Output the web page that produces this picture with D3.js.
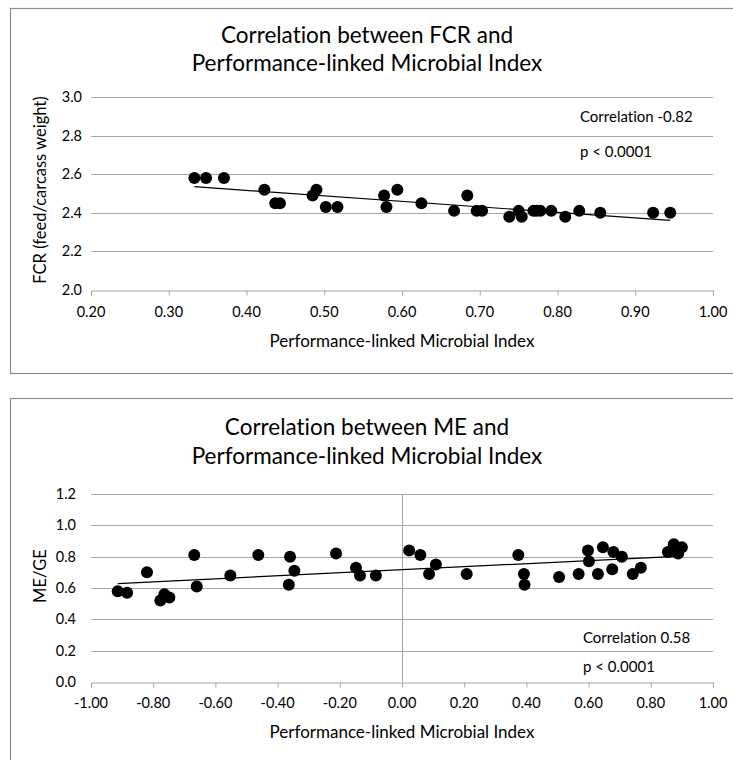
<!DOCTYPE html>
<html>
<head>
<meta charset="utf-8">
<script src="https://cdn.jsdelivr.net/npm/d3@7"></script>
<style>
  html, body { margin: 0; padding: 0; background: #fff; }
  svg text { font-family: Lato, "Open Sans", sans-serif; fill: #000; font-variant-ligatures: none; font-feature-settings: "liga" 0, "clig" 0; }
</style>
</head>
<body>
<svg id="chart" width="733" height="760"></svg>
<script>
// Panel 1: FCR vs performance-linked microbial index
const fcrIndex = [0.333, 0.348, 0.371, 0.423, 0.437, 0.443, 0.485, 0.490, 0.502, 0.517,
                  0.577, 0.580, 0.594, 0.625, 0.667, 0.684, 0.696, 0.703, 0.738, 0.750,
                  0.754, 0.769, 0.773, 0.778, 0.792, 0.810, 0.828, 0.855, 0.923, 0.945];
const fcrValue = [2.58, 2.58, 2.58, 2.52, 2.45, 2.45, 2.49, 2.52, 2.43, 2.43,
                  2.49, 2.43, 2.52, 2.45, 2.41, 2.49, 2.41, 2.41, 2.38, 2.41,
                  2.38, 2.41, 2.41, 2.41, 2.41, 2.38, 2.41, 2.40, 2.40, 2.40];
const fcrXTicks = [0.2, 0.3, 0.4, 0.5, 0.6, 0.7, 0.8, 0.9, 1.0];
const fcrYTicks = [2.0, 2.2, 2.4, 2.6, 2.8, 3.0];

// Panel 2: ME/GE vs performance-linked microbial index
const meIndex = [-0.914, -0.884, -0.820, -0.777, -0.764, -0.748, -0.668, -0.660, -0.552, -0.462,
                 -0.360, -0.364, -0.346, -0.212, -0.148, -0.135, -0.084, 0.023, 0.059, 0.087,
                 0.109, 0.208, 0.374, 0.392, 0.394, 0.505, 0.568, 0.598, 0.601, 0.630,
                 0.646, 0.676, 0.680, 0.707, 0.742, 0.768, 0.855, 0.874, 0.888, 0.900];
const meValue = [0.58, 0.57, 0.70, 0.52, 0.56, 0.54, 0.81, 0.61, 0.68, 0.81,
                 0.80, 0.62, 0.71, 0.82, 0.73, 0.68, 0.68, 0.84, 0.81, 0.69,
                 0.75, 0.69, 0.81, 0.69, 0.62, 0.67, 0.69, 0.84, 0.77, 0.69,
                 0.86, 0.72, 0.83, 0.80, 0.69, 0.73, 0.83, 0.88, 0.82, 0.86];
const meXTicks = [-1.0, -0.8, -0.6, -0.4, -0.2, 0.0, 0.2, 0.4, 0.6, 0.8, 1.0];
const meYTicks = [0.0, 0.2, 0.4, 0.6, 0.8, 1.0, 1.2];

const panels = [
  {
    top: 8, boxHeight: 365,
    titles: ["Correlation between FCR and", "Performance-linked Microbial Index"],
    titleY: [43, 71],
    xs: fcrIndex, ys: fcrValue, xTicks: fcrXTicks, yTicks: fcrYTicks,
    xDomain: [0.2, 1.0], yDomain: [2.0, 3.0],
    plotTop: 97, plotBottom: 290,
    yLabel: "FCR (feed/carcass weight)", yLabelY: 190, yTickRight: 82,
    xTickY: 317, xTitleY: 347,
    notes: ["Correlation -0.82", "p < 0.0001"], noteX: 580, noteY: [122, 157],
    zeroLine: false
  },
  {
    top: 398, boxHeight: 400,
    titles: ["Correlation between ME and", "Performance-linked Microbial Index"],
    titleY: [435, 464],
    xs: meIndex, ys: meValue, xTicks: meXTicks, yTicks: meYTicks,
    xDomain: [-1.0, 1.0], yDomain: [0.0, 1.2],
    plotTop: 494, plotBottom: 682,
    yLabel: "ME/GE", yLabelY: 576, yTickRight: 76,
    xTickY: 708, xTitleY: 738,
    notes: ["Correlation 0.58", "p < 0.0001"], noteX: 583, noteY: [643, 672],
    zeroLine: true
  }
];

const svg = d3.select("#chart");
const plotLeft = 91, plotRight = 713;
const gridColor = "#a6a6a6";
const fmt2 = d => d.toFixed(2);
const fmt1 = d => d.toFixed(1);

function fit(xs, ys) {
  const mx = d3.mean(xs), my = d3.mean(ys);
  let sxy = 0, sxx = 0;
  xs.forEach((x, i) => { sxy += (x - mx) * (ys[i] - my); sxx += (x - mx) * (x - mx); });
  const slope = sxy / sxx;
  return { slope, intercept: my - slope * mx };
}

panels.forEach(p => {
  const g = svg.append("g");

  // outer chart frame
  g.append("rect")
    .attr("x", 10.5).attr("y", p.top + 0.5)
    .attr("width", 740).attr("height", p.boxHeight)
    .attr("fill", "#fff").attr("stroke", "#8c8c8c").attr("stroke-width", 1.2);

  // title
  p.titles.forEach((t, i) => {
    g.append("text").attr("x", 367).attr("y", p.titleY[i])
      .attr("text-anchor", "middle").style("font-size", "22.5px").text(t);
  });

  const x = d3.scaleLinear().domain(p.xDomain).range([plotLeft, plotRight]);
  const y = d3.scaleLinear().domain(p.yDomain).range([p.plotBottom, p.plotTop]);

  // horizontal gridlines
  g.append("g").selectAll("line").data(p.yTicks.slice(1)).join("line")
    .attr("x1", plotLeft).attr("x2", plotRight)
    .attr("y1", d => Math.round(y(d)) + 0.5).attr("y2", d => Math.round(y(d)) + 0.5)
    .attr("stroke", gridColor).attr("stroke-width", 1);

  // vertical axis through zero
  if (p.zeroLine) {
    g.append("line")
      .attr("x1", Math.round(x(0)) + 0.5).attr("x2", Math.round(x(0)) + 0.5)
      .attr("y1", p.plotTop).attr("y2", p.plotBottom)
      .attr("stroke", gridColor).attr("stroke-width", 1);
  }

  // x axis
  const xAxis = d3.axisBottom(x).tickValues(p.xTicks).tickFormat(fmt2)
    .tickSize(5).tickPadding(0);
  const xg = g.append("g").attr("transform", `translate(0,${Math.round(y(p.yDomain[0])) + 0.5})`).call(xAxis);
  xg.select(".domain").attr("stroke", gridColor);
  xg.selectAll(".tick line").attr("stroke", gridColor);
  xg.selectAll(".tick text").remove();
  g.append("g").selectAll("text").data(p.xTicks).join("text")
    .attr("x", d => x(d)).attr("y", p.xTickY)
    .attr("text-anchor", "middle").style("font-size", "14.5px")
    .text(fmt2);

  // y tick labels
  g.append("g").selectAll("text").data(p.yTicks).join("text")
    .attr("x", p.yTickRight).attr("y", d => y(d)).attr("dy", "0.35em")
    .attr("text-anchor", "end").style("font-size", "14.5px")
    .text(fmt1);

  // axis titles
  g.append("text").attr("x", (plotLeft + plotRight) / 2).attr("y", p.xTitleY)
    .attr("text-anchor", "middle").style("font-size", "17px")
    .text("Performance-linked Microbial Index");
  g.append("text")
    .attr("transform", `translate(46,${p.yLabelY}) rotate(-90)`)
    .attr("text-anchor", "middle").style("font-size", "16.5px")
    .text(p.yLabel);

  // statistics notes
  p.notes.forEach((t, i) => {
    g.append("text").attr("x", p.noteX).attr("y", p.noteY[i])
      .style("font-size", "15px").text(t);
  });

  // linear trendline
  const f = fit(p.xs, p.ys);
  const [x0, x1] = d3.extent(p.xs);
  g.append("line")
    .attr("x1", x(x0)).attr("y1", y(f.intercept + f.slope * x0))
    .attr("x2", x(x1)).attr("y2", y(f.intercept + f.slope * x1))
    .attr("stroke", "#000").attr("stroke-width", 1.2);

  // data points
  g.append("g").selectAll("circle").data(p.xs.map((v, i) => [v, p.ys[i]])).join("circle")
    .attr("cx", d => x(d[0])).attr("cy", d => y(d[1])).attr("r", 6)
    .attr("fill", "#000");
});
</script>
</body>
</html>
